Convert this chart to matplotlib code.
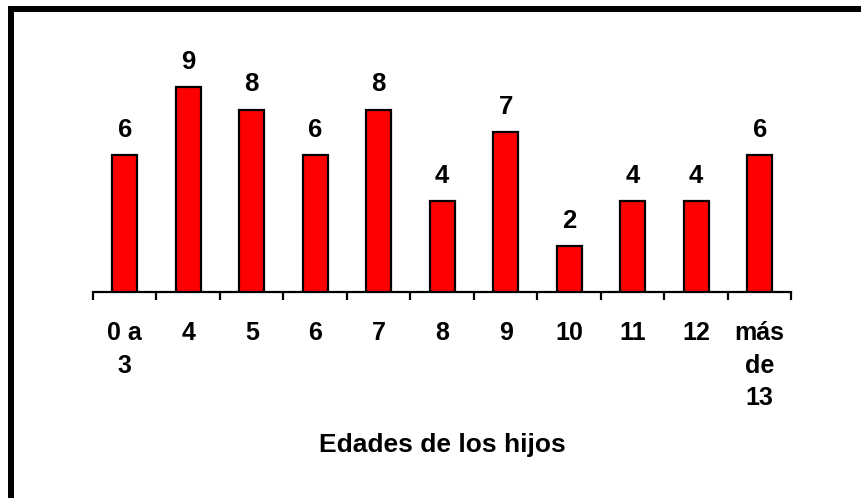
import matplotlib
matplotlib.use('Agg')
import matplotlib.pyplot as plt
from matplotlib.patches import Rectangle

plt.rcParams['font.family'] = ['Liberation Sans', 'DejaVu Sans']

# datos
edades = ["0 a\n3", "4", "5", "6", "7", "8", "9", "10", "11", "12", "más\nde\n13"]
hijos = [6, 9, 8, 6, 8, 4, 7, 2, 4, 4, 6]

W, H = 862, 498
fig = plt.figure(figsize=(W / 100, H / 100), dpi=100)
ax = fig.add_axes([93 / W, 206 / H, 698.5 / W, 228 / H])

x = list(range(len(hijos)))
bars = ax.bar(x, hijos, width=0.39, color="#ff0000", edgecolor="black", linewidth=1.6, zorder=3)

for b, v in zip(bars, hijos):
    ax.annotate(str(v), (b.get_x() + b.get_width() / 2, v), xytext=(0, 9.5), textcoords="offset points",
                ha="center", va="bottom", fontsize=18.5, fontweight="bold")

ax.set_xlim(-0.5, len(hijos) - 0.5)
ax.set_ylim(0, 10)

# ticks en los bordes de categoría, etiquetas al centro
ax.set_xticks([i - 0.5 for i in range(len(hijos) + 1)])
ax.set_xticklabels([])
ax.tick_params(axis="x", which="major", length=6, width=1.6, direction="out", color="black")
ax.set_xticks(x, minor=True)
ax.set_xticklabels(edades, minor=True, fontsize=18, fontweight="bold", linespacing=1.45, va="top")
ax.tick_params(axis="x", which="minor", length=0, pad=21)
ax.set_yticks([])

for s in ["top", "right", "left"]:
    ax.spines[s].set_visible(False)
ax.spines["bottom"].set_linewidth(1.6)

fig.text((93 + 791.5) / 2 / W, 1 - 445 / H, "Edades de los hijos", ha="center", va="center",
         fontsize=19, fontweight="bold")

# marco del gráfico
fig.add_artist(Rectangle((8 / W, 0), 6 / W, 1 - 6 / H, transform=fig.transFigure, color="black", lw=0))
fig.add_artist(Rectangle((8 / W, 1 - 12 / H), 1 - 8 / W, 6 / H, transform=fig.transFigure, color="black", lw=0))

fig.savefig("out.png", dpi=100)
